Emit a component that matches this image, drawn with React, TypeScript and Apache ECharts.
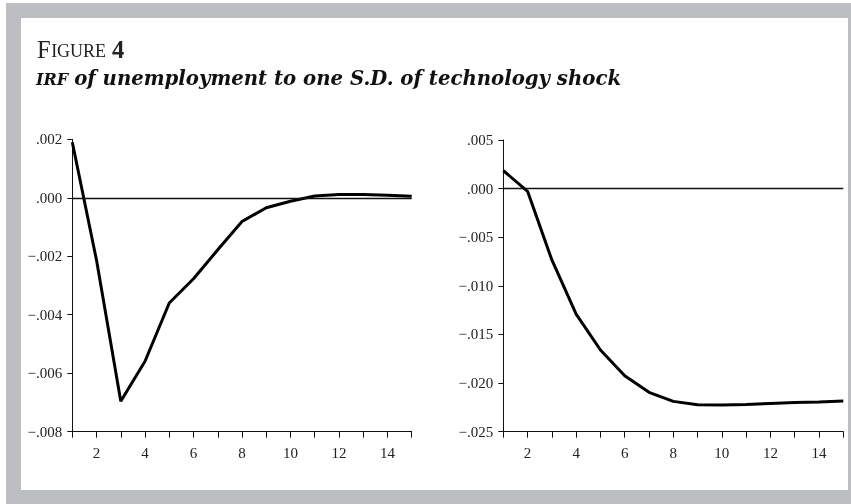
import React, { useEffect, useRef } from "react";
import * as echarts from "echarts";

const periods = [1, 2, 3, 4, 5, 6, 7, 8, 9, 10, 11, 12, 13, 14, 15];
const leftValues = [0.0019, -0.00214, -0.00696, -0.00559, -0.0036, -0.00277, -0.00178, -0.00081, -0.00034, -0.00012, 0.00006, 0.00011, 0.00011, 0.00009, 0.00005];
const rightValues = [0.00185, -0.00028, -0.00734, -0.0129, -0.0166, -0.01924, -0.02095, -0.02188, -0.02222, -0.02226, -0.0222, -0.0221, -0.022, -0.02195, -0.02185];
const leftYTicks = { min: -0.008, max: 0.002, interval: 0.002 };
const rightYTicks = { min: -0.025, max: 0.005, interval: 0.005 };
const titleMain = ["F", "IGURE", "4"];
const titleSub = ["IRF", "of unemployment to one S.D. of technology shock"];

const SERIF = "'Liberation Serif', serif";
const SERIF2 = "'DejaVu Serif', serif";

function fmtY(v: number): string {
  const s = Math.abs(v).toFixed(3).replace(/^0/, "");
  return v < -1e-12 ? "\u2212" + s : s;
}

type Piece = { text: string; size: number; family: string; weight?: string; style?: string; gap?: number; fill: string; central: number };

let ctx: CanvasRenderingContext2D | null = null;
function measure(p: { text: string; size: number; family: string; weight?: string; style?: string }): number {
  if (!ctx) ctx = document.createElement("canvas").getContext("2d");
  if (!ctx) return p.text.length * p.size * 0.5;
  ctx.font = `${p.style || "normal"} ${p.weight || "normal"} ${p.size}px ${p.family}`;
  return ctx.measureText(p.text).width;
}

function placeLine(pieces: Piece[], x0: number, baseline: number) {
  let x = x0;
  const out: any[] = [];
  for (const p of pieces) {
    x += p.gap || 0;
    out.push({
      type: "text",
      x,
      y: baseline - p.central * p.size,
      style: {
        text: p.text,
        fontFamily: p.family,
        fontSize: p.size,
        fontWeight: p.weight || "normal",
        fontStyle: p.style || "normal",
        fill: p.fill,
        align: "left",
        verticalAlign: "middle",
      },
    });
    x += measure(p);
  }
  return out;
}

export default function App() {
  const ref = useRef<HTMLDivElement>(null);
  useEffect(() => {
    if (!ref.current) return;
    const chart = echarts.init(ref.current, null, { renderer: "svg" });

    const subBase = { text: titleSub[1], size: 20, family: SERIF2, weight: "bold", style: "italic" };
    const subSize = (20 * 547) / measure(subBase);
    const smallBase = { text: titleSub[0], size: 14, family: SERIF2, weight: "bold", style: "italic" };
    const smallSize = Math.min(16, (14 * 34) / measure(smallBase));

    const titleEls = placeLine(
      [
        { text: titleMain[0], size: 24.5, family: SERIF, fill: "#222", central: 0.3375 },
        { text: titleMain[1], size: 18, family: SERIF, fill: "#222", central: 0.3375, gap: 0.5 },
        { text: titleMain[2], size: 24.5, family: SERIF, weight: "bold", fill: "#222", central: 0.3375, gap: 6 },
      ],
      37,
      57.3
    );
    const subEls = placeLine(
      [
        { text: titleSub[0], size: smallSize, family: SERIF2, weight: "bold", style: "italic", fill: "#111", central: 0.35 },
        { text: titleSub[1], size: subSize, family: SERIF2, weight: "bold", style: "italic", fill: "#111", central: 0.35, gap: 6 },
      ],
      36,
      85.3
    );

    const axisCommon = {
      axisLine: { show: true, onZero: false, lineStyle: { color: "#111", width: 1 } },
      axisTick: { show: true, length: 5, lineStyle: { color: "#111", width: 1 } },
      splitLine: { show: false },
      axisLabel: { color: "#222", fontFamily: SERIF, fontSize: 15 },
    };
    const xAxis = (gi: number) => ({
      type: "value",
      gridIndex: gi,
      min: 1,
      max: 15,
      interval: 1,
      ...axisCommon,
      axisTick: { show: true, length: 6, lineStyle: { color: "#111", width: 1 } },
      axisLabel: {
        ...axisCommon.axisLabel,
        margin: 14,
        formatter: (v: number) => (v % 2 === 0 ? String(v) : ""),
      },
    });
    const yAxis = (gi: number, t: { min: number; max: number; interval: number }) => ({
      type: "value",
      gridIndex: gi,
      min: t.min,
      max: t.max,
      interval: t.interval,
      ...axisCommon,
      axisLabel: { ...axisCommon.axisLabel, margin: 10, formatter: fmtY },
    });
    const zeroLine = {
      silent: true,
      symbol: "none",
      label: { show: false },
      lineStyle: { color: "#111", width: 1.3, type: "solid" },
      data: [{ yAxis: 0 }],
    };
    const mk = (vals: number[]) => periods.map((p, i) => [p, vals[i]]);
    chart.setOption({
      animation: false,
      graphic: [
        { type: "rect", shape: { x: 6, y: 3, width: 845, height: 501 }, style: { fill: "#bdbec1" }, z: -10 },
        { type: "rect", shape: { x: 21, y: 18, width: 827, height: 472 }, style: { fill: "#ffffff" }, z: -9 },
        ...titleEls,
        ...subEls,
      ],
      grid: [
        { left: 72.3, right: 439.3, top: 139.3, bottom: 72.3 },
        { left: 503.3, right: 7.7, top: 140, bottom: 72.3 },
      ],
      xAxis: [xAxis(0), xAxis(1)],
      yAxis: [yAxis(0, leftYTicks), yAxis(1, rightYTicks)],
      series: [
        {
          type: "line",
          xAxisIndex: 0,
          yAxisIndex: 0,
          data: mk(leftValues),
          symbol: "none",
          lineStyle: { color: "#000", width: 3 },
          markLine: zeroLine,
          z: 3,
        },
        {
          type: "line",
          xAxisIndex: 1,
          yAxisIndex: 1,
          data: mk(rightValues),
          symbol: "none",
          lineStyle: { color: "#000", width: 3 },
          markLine: zeroLine,
          z: 3,
        },
      ],
    });
    return () => chart.dispose();
  }, []);
  return <div ref={ref} style={{ position: "fixed", left: 0, top: 0, width: 851, height: 504 }} />;
}
